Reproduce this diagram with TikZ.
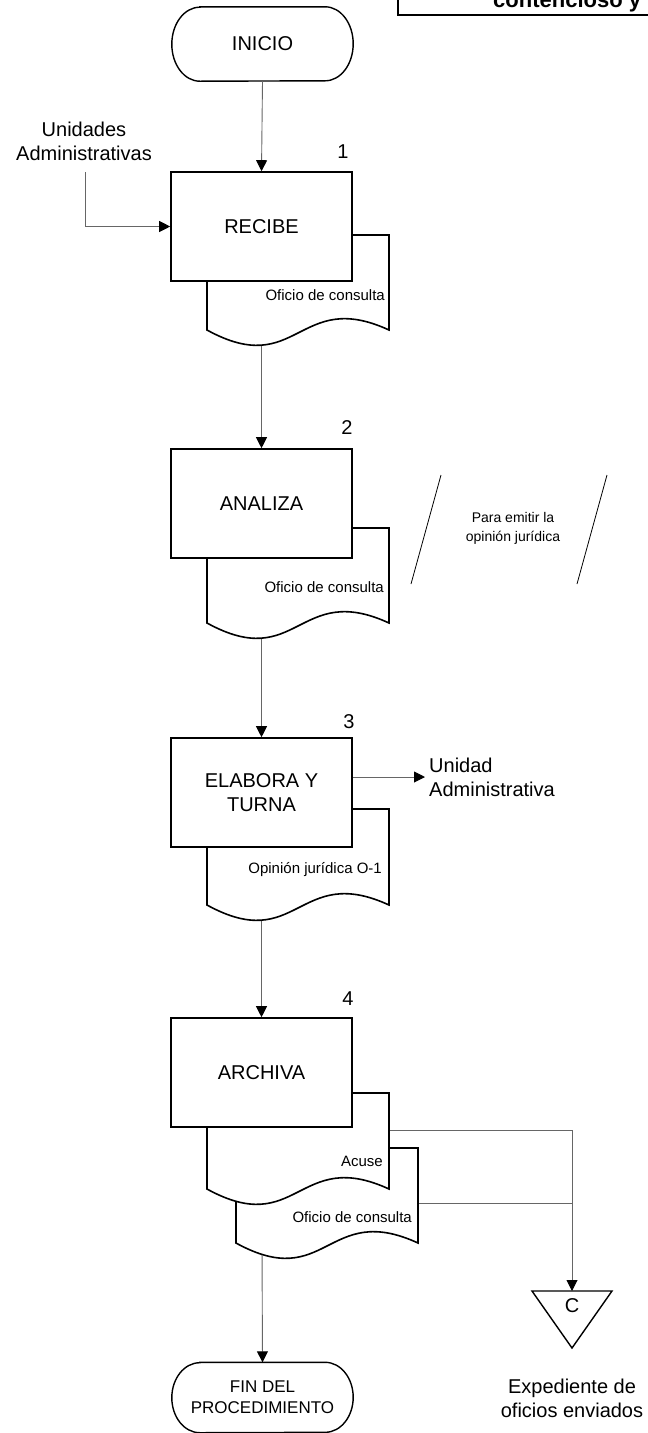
\documentclass[tikz,border=0pt]{standalone}
\usepackage{fontspec}
\setmainfont{Liberation Sans}
\usetikzlibrary{arrows.meta,backgrounds}
\newcommand\mydoc[4]{%
  \path[doc] (#1,#3) -- (#2,#3) -- (#2,#4)
    .. controls ({(#1+#2)/2},{#4-42}) and ({(#1+#2)/2},{#4+50}) .. (#1,#4) -- cycle;}
\newcommand\termline[2]{%
  \draw[line width=1.4pt,fill=white] ([xshift=28pt]#1.north west) -- ([xshift=-28pt]#1.north east)
    arc[start angle=90,end angle=-90,x radius=28pt,y radius=#2]
    -- ([xshift=28pt]#1.south west)
    arc[start angle=270,end angle=90,x radius=28pt,y radius=#2] -- cycle;}
\begin{document}
\begin{tikzpicture}[x=1pt,y=-1pt,
  box/.style={draw,line width=1.6pt,fill=white,minimum width=181pt,minimum height=109pt,inner sep=0pt,font=\fontsize{20}{24}\selectfont,align=center},
  term/.style={rectangle,minimum width=181pt,minimum height=74pt,inner sep=0pt,align=center},
  doc/.style={draw,line width=1.6pt,fill=white},
  conn/.style={draw=black!60,line width=0.9pt},
  arr/.style={conn,-{Triangle[length=11pt,width=11pt,color=black,fill=black]}},
  lbl/.style={font=\fontsize{20}{24}\selectfont,align=center,inner sep=0pt},
  doctext/.style={font=\fontsize{15}{18}\selectfont,anchor=east,inner sep=0pt},
  num/.style={font=\fontsize{20}{24}\selectfont,inner sep=0pt}]
\useasboundingbox (0,0) rectangle (648,1433);
\clip (0,0) rectangle (648,1433);

% title fragment
\draw[line width=2.4pt] (398,-20) rectangle (700,15);
\node[font=\bfseries\fontsize{22}{26}\selectfont,anchor=base west,inner sep=0pt] (title) at (493,7) {contencioso y};

% main nodes
\node[term,font=\fontsize{20}{24}\selectfont] (start) at (262.5,44) {INICIO};
\node[box] (b1) at (261.5,226.5) {RECIBE};
\node[num] (n1) at (343,152) {1};
\node[lbl] (ua) at (84,141) {Unidades\\Administrativas};
\coordinate (uaend) at (85,172);
\node[box] (b2) at (261.5,503.5) {ANALIZA};
\node[num] (n2) at (347,428) {2};
\node[box] (b3) at (261.5,792.5) {ELABORA Y\\TURNA};
\node[num] (n3) at (349,722) {3};
\node[lbl,anchor=west,align=left,inner sep=4pt] (ua2) at (425,777) {Unidad\\Administrativa};
\node[box] (b4) at (261.5,1072.5) {ARCHIVA};
\node[num] (n4) at (348,999) {4};
\node[term,font=\fontsize{17}{21}\selectfont,minimum height=70pt] (fin) at (262.5,1397.5) {FIN DEL\\PROCEDIMIENTO};

% annotation
\draw[line width=0.8pt] (441,475) -- (411,584);
\draw[line width=0.8pt] (607,475) -- (577,584);
\node[font=\fontsize{14}{19}\selectfont,align=center] (ann) at (513,528) {Para emitir la\\opinión jurídica};

% connector C
\coordinate (ctop) at (572,1291);
\path[doc,line width=1.4pt] (532,1291) -- (612,1291) -- (572,1348) -- cycle;
\node[num] (cn) at (572,1306) {C};
\node[lbl] (exp) at (572,1398) {Expediente de\\oficios enviados};

\coordinate (a1r) at (389,1130);
\coordinate (a2r) at (418,1203);

\begin{scope}[on background layer]
  \termline{start}{37pt}
  \termline{fin}{35pt}
  \draw[arr] (start.south) -- (b1.north);
  \draw[arr] (uaend) |- (b1.west);
  \draw[arr] (b1.south) -- (b2.north);
  \draw[arr] (b2.south) -- (b3.north);
  \draw[arr] (b3.south) -- (b4.north);
  \draw[arr] (b4.south) -- (fin.north);
  \draw[arr] (b3.east |- ua2.west) -- (ua2.west);
  \draw[arr] (a1r) -- (a1r -| ctop) -- (ctop);
  \draw[conn] (a2r) -- (a2r -| ctop);
  \mydoc{207}{389}{235}{330}
  \mydoc{207}{389}{528}{623}
  \mydoc{207}{389}{809}{905}
  \mydoc{236}{418}{1148}{1243}
  \mydoc{207}{389}{1093}{1189}
\end{scope}

% document labels
\node[doctext] (d1) at (385,295) {Oficio de consulta};
\node[doctext] (d2) at (384,587) {Oficio de consulta};
\node[doctext] (d3) at (382,870) {Opinión jurídica O-1};
\node[doctext] (d4) at (383,1161) {Acuse};
\node[doctext] (d5) at (412,1217) {Oficio de consulta};
\end{tikzpicture}
\end{document}
